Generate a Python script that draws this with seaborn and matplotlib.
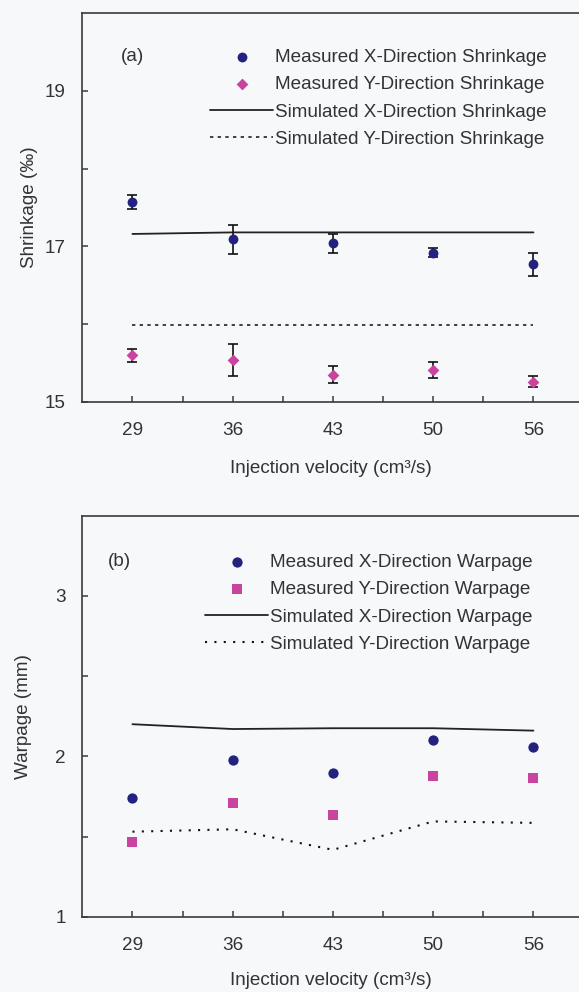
import numpy as np
import pandas as pd
import matplotlib
matplotlib.use("Agg")
import matplotlib.pyplot as plt
import seaborn as sns

# ---------------- data ----------------
velocity = ["29", "36", "43", "50", "56"]

shrink_meas_x = [17.57, 17.09, 17.04, 16.92, 16.77]
shrink_meas_x_err = [0.09, 0.19, 0.12, 0.06, 0.145]
shrink_meas_y = [15.60, 15.54, 15.35, 15.41, 15.26]
shrink_meas_y_err = [0.08, 0.21, 0.11, 0.105, 0.07]
shrink_sim_x = [17.16, 17.18, 17.18, 17.18, 17.18]
shrink_sim_y = [15.99, 15.99, 15.99, 15.99, 15.99]

warp_meas_x = [1.74, 1.975, 1.895, 2.10, 2.06]
warp_meas_y = [1.465, 1.71, 1.636, 1.88, 1.865]
warp_sim_x = [2.20, 2.17, 2.175, 2.175, 2.16]
warp_sim_y = [1.53, 1.545, 1.417, 1.594, 1.585]

shrink_labels = ["Measured X-Direction Shrinkage", "Measured Y-Direction Shrinkage",
                 "Simulated X-Direction Shrinkage", "Simulated Y-Direction Shrinkage"]
warp_labels = ["Measured X-Direction Warpage", "Measured Y-Direction Warpage",
               "Simulated X-Direction Warpage", "Simulated Y-Direction Warpage"]

# ---------------- style ----------------
sns.set_theme(style="ticks")
plt.rcParams["font.family"] = ["Liberation Sans", "DejaVu Sans"]
FS = 13.6
TXT = "#333333"
NAVY = "#23237f"
MAG = "#c9449f"
BG = "#f7f8fa"
plt.rcParams.update({
    "axes.edgecolor": "#3a3a3a",
    "axes.linewidth": 1.2,
    "text.color": TXT,
    "axes.labelcolor": TXT,
    "xtick.color": "#3a3a3a",
    "ytick.color": "#3a3a3a",
    "xtick.labelcolor": TXT,
    "ytick.labelcolor": TXT,
})

W, H = 579, 992
fig = plt.figure(figsize=(W / 100, H / 100), dpi=100, facecolor=BG)

xs = np.arange(len(velocity))


def px_axes(left, top, right, bottom):
    return fig.add_axes([left / W, 1 - bottom / H, (right - left) / W, (bottom - top) / H])


def style_axes(ax, ylim, yticks, ylabels, ylabel, ylab_x, xlab_y):
    ax.set_facecolor(BG)
    ax.set_xlim(-0.5, 4.5)
    ax.set_ylim(*ylim)
    ax.set_xticks(xs)
    ax.set_xticklabels(velocity)
    ax.set_xticks(xs[:-1] + 0.5, minor=True)
    ax.set_yticks(yticks)
    ax.set_yticklabels(ylabels)
    ax.tick_params(axis="both", which="both", direction="in", length=4.5, width=1.1,
                   labelsize=FS)
    ax.tick_params(axis="x", which="both", pad=14.5)
    ax.tick_params(axis="y", pad=12)
    ax.tick_params(axis="both", which="both", top=False, right=False)
    for s in ["left", "bottom", "top"]:
        ax.spines[s].set_visible(True)
    ax.spines["right"].set_visible(False)
    ax.set_ylabel(ylabel, fontsize=FS)
    ax.set_xlabel("Injection velocity (cm³/s)", fontsize=FS)
    ax.yaxis.set_label_coords(ylab_x, 0.5)
    ax.xaxis.set_label_coords(0.496, xlab_y)


def legend(ax, anchor):
    h, l = ax.get_legend_handles_labels()
    ax.legend(h, l, loc="upper left", bbox_to_anchor=anchor, frameon=False,
              fontsize=FS, handlelength=3.35, handletextpad=0.1, labelspacing=0.53,
              borderpad=0, borderaxespad=0, markerscale=1.0)


# ---------------- panel (a) ----------------
axA = px_axes(82.3, 13, 583.6, 402)
dfa = pd.DataFrame({"x": xs, "mx": shrink_meas_x, "my": shrink_meas_y,
                    "sx": shrink_sim_x, "sy": shrink_sim_y})
axA.errorbar(xs, shrink_meas_x, yerr=shrink_meas_x_err, fmt="none", ecolor="#111111",
             elinewidth=1.2, capsize=3.6, capthick=1.2, zorder=2)
axA.errorbar(xs, shrink_meas_y, yerr=shrink_meas_y_err, fmt="none", ecolor="#111111",
             elinewidth=1.2, capsize=3.6, capthick=1.2, zorder=2)
sns.scatterplot(data=dfa, x="x", y="mx", ax=axA, marker="o", s=50, color=NAVY,
                edgecolor=NAVY, linewidth=0, label=shrink_labels[0], zorder=3)
sns.scatterplot(data=dfa, x="x", y="my", ax=axA, marker="D", s=36, color=MAG,
                edgecolor=MAG, linewidth=0, label=shrink_labels[1], zorder=3)
sns.lineplot(data=dfa, x="x", y="sx", ax=axA, color="#222222", linewidth=1.3,
             label=shrink_labels[2], zorder=1)
sns.lineplot(data=dfa, x="x", y="sy", ax=axA, color="#222222", linewidth=1.2,
             linestyle=(0, (2.0, 2.6)), label=shrink_labels[3], zorder=1)
style_axes(axA, (15, 20), [15, 16, 17, 18, 19], ["15", "", "17", "", "19"],
           "Shrinkage (‰)", -0.089, -0.148)
legend(axA, ((210 - 82.3) / 501.3, (13 - 49) / 389 + 1))
axA.text((133 - 82.3) / 501.3, (13 - 56.7) / 389 + 1, "(a)", transform=axA.transAxes,
         ha="center", va="center", fontsize=FS, color=TXT)

# ---------------- panel (b) ----------------
axB = px_axes(82.3, 515.7, 583.6, 916.7)
dfb = pd.DataFrame({"x": xs, "mx": warp_meas_x, "my": warp_meas_y,
                    "sx": warp_sim_x, "sy": warp_sim_y})
sns.scatterplot(data=dfb, x="x", y="mx", ax=axB, marker="o", s=55, color=NAVY,
                edgecolor=NAVY, linewidth=0, label=warp_labels[0], zorder=3)
sns.scatterplot(data=dfb, x="x", y="my", ax=axB, marker="s", s=55, color=MAG,
                edgecolor=MAG, linewidth=0, label=warp_labels[1], zorder=3)
sns.lineplot(data=dfb, x="x", y="sx", ax=axB, color="#222222", linewidth=1.3,
             label=warp_labels[2], zorder=1)
sns.lineplot(data=dfb, x="x", y="sy", ax=axB, color="#111111", linewidth=1.5,
             linestyle=(0, (1.0, 3.5)), label=warp_labels[3], zorder=1)
style_axes(axB, (1, 3.5), [1, 1.5, 2, 2.5, 3], ["1", "", "2", "", "3"],
           "Warpage (mm)", -0.101, -0.138)
legend(axB, ((205 - 82.3) / 501.3, (515.7 - 554) / 401 + 1))
axB.text((119 - 82.3) / 501.3, (515.7 - 561.7) / 401 + 1, "(b)", transform=axB.transAxes,
         ha="center", va="center", fontsize=FS, color=TXT)

fig.savefig("out.png", dpi=100, facecolor=BG)
